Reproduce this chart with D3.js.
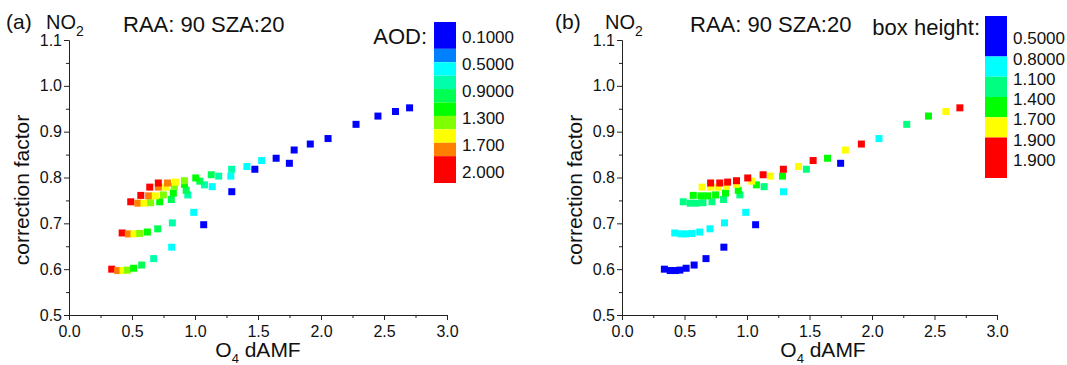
<!DOCTYPE html>
<html lang="en">

<head>
    <meta charset="utf-8" />
    <title>NO2 correction factor</title>
    <script src="https://d3js.org/d3.v7.min.js"></script>
</head>
<style>
    body {
        margin: 0;
        background: #fff;
    }

    text {
        font-family: "Liberation Sans", Arial, sans-serif;
        fill: #111;
    }

    .axis path,
    .axis line {
        stroke: #222;
        stroke-width: 1px;
    }
</style>

<body>
    <div id="chart"></div>
</body>

<script>
    // box heights (one curve each) and AOD values (one point per curve each)
    var boxHeights = [0.5, 0.8, 1.1, 1.4, 1.7, 1.9];
    var aodValues = [2.0, 1.8, 1.6, 1.4, 1.2, 1.0, 0.8, 0.6, 0.2, 0.1];

    // O4 dAMF (x) and correction factor (y) per box height, in aodValues order
    var o4_h05 = [0.339, 0.386, 0.429, 0.463, 0.513, 0.577, 0.672, 0.815, 1.069, 1.749];
    var cf_h05 = [0.600, 0.597, 0.597, 0.598, 0.602, 0.609, 0.623, 0.648, 0.697, 0.831];
    var o4_h08 = [0.422, 0.471, 0.516, 0.561, 0.622, 0.704, 0.820, 0.990, 1.292, 2.056];
    var cf_h08 = [0.679, 0.677, 0.677, 0.678, 0.681, 0.688, 0.701, 0.724, 0.769, 0.885];
    var o4_h11 = [0.490, 0.546, 0.595, 0.648, 0.720, 0.812, 0.943, 1.137, 1.475, 2.278];
    var cf_h11 = [0.747, 0.744, 0.744, 0.745, 0.747, 0.752, 0.762, 0.780, 0.818, 0.916];
    var o4_h14 = [0.570, 0.632, 0.685, 0.749, 0.828, 0.930, 1.075, 1.284, 1.644, 2.452];
    var cf_h14 = [0.761, 0.760, 0.760, 0.762, 0.766, 0.772, 0.784, 0.803, 0.842, 0.934];
    var o4_h17 = [0.641, 0.709, 0.768, 0.836, 0.917, 1.038, 1.188, 1.412, 1.787, 2.591];
    var cf_h17 = [0.779, 0.779, 0.779, 0.781, 0.785, 0.792, 0.803, 0.824, 0.860, 0.944];
    var o4_h19 = [0.709, 0.782, 0.845, 0.916, 1.006, 1.129, 1.291, 1.529, 1.915, 2.703];
    var cf_h19 = [0.788, 0.788, 0.790, 0.793, 0.799, 0.806, 0.818, 0.837, 0.873, 0.952];

    var o4Curves = [o4_h05, o4_h08, o4_h11, o4_h14, o4_h17, o4_h19];
    var cfCurves = [cf_h05, cf_h08, cf_h11, cf_h14, cf_h17, cf_h19];

    // axis ticks
    var xTicks = [0.0, 0.5, 1.0, 1.5, 2.0, 2.5, 3.0];
    var xMinor = [0.25, 0.75, 1.25, 1.75, 2.25, 2.75];
    var yTicks = [0.5, 0.6, 0.7, 0.8, 0.9, 1.0, 1.1];
    var yMinor = [0.55, 0.65, 0.75, 0.85, 0.95, 1.05];

    // legends
    var aodThresholds = [0.3, 0.5, 0.7, 0.9, 1.1, 1.3, 1.5, 1.7, 1.9];
    var aodLegendLabels = ["0.1000", "0.5000", "0.9000", "1.300", "1.700", "2.000"];
    var boxLegendLabels = ["0.5000", "0.8000", "1.100", "1.400", "1.700", "1.900", "1.900"];

    var aodColors = ["#0000ff", "#0080ff", "#00ffff", "#00ffaa", "#00ff55",
        "#00ff00", "#80ff00", "#ffff00", "#ff8000", "#ff0000"];
    var boxColors = ["#0000ff", "#00ffff", "#00ff80", "#00ff00", "#ffff00", "#ff0000"];

    var aodColor = d3.scaleThreshold().domain(aodThresholds).range(aodColors);
    var boxColor = d3.scaleOrdinal().domain(boxHeights).range(boxColors);

    // flat point list
    var points = [];
    boxHeights.forEach(function (h, i) {
        aodValues.forEach(function (a, j) {
            points.push({ box: h, aod: a, x: o4Curves[i][j], y: cfCurves[i][j] });
        });
    });

    var width = 1067, height = 365;
    var svg = d3.select("#chart").append("svg")
        .attr("width", width)
        .attr("height", height);

    var panels = [
        {
            left: 69, right: 447, tag: "(a)", tagX: 6, no2X: 46, raaX: 123,
            ylabX: 29, xlabX: 258, color: function (d) { return aodColor(d.aod); },
            legend: {
                x: 434, top: 22, bottom: 183, colors: aodColors, labels: aodLegendLabels,
                title: "AOD:", titleX: 427, titleY: 44, step: 2
            }
        },
        {
            left: 622, right: 997, tag: "(b)", tagX: 555, no2X: 605, raaX: 690,
            ylabX: 582, xlabX: 823, color: function (d) { return boxColor(d.box); },
            legend: {
                x: 985, top: 16, bottom: 178, colors: boxColors, labels: boxLegendLabels,
                title: "box height:", titleX: 980, titleY: 35, step: 1
            }
        }
    ];

    var plotTop = 40, plotBottom = 315;
    var y = d3.scaleLinear().domain([0.5, 1.1]).range([plotBottom, plotTop]);

    panels.forEach(function (p) {
        var x = d3.scaleLinear().domain([0, 3]).range([p.left, p.right]);
        var g = svg.append("g");

        // minor ticks
        g.append("g").attr("class", "axis")
            .attr("transform", "translate(0," + plotBottom + ")")
            .call(d3.axisBottom(x).tickValues(xMinor).tickSize(3).tickSizeOuter(0).tickFormat(""));
        g.append("g").attr("class", "axis")
            .attr("transform", "translate(" + p.left + ",0)")
            .call(d3.axisLeft(y).tickValues(yMinor).tickSize(3).tickSizeOuter(0).tickFormat(""));

        // major ticks
        var xa = g.append("g").attr("class", "axis")
            .attr("transform", "translate(0," + plotBottom + ")")
            .call(d3.axisBottom(x).tickValues(xTicks).tickSize(5).tickSizeOuter(0)
                .tickFormat(d3.format(".1f")));
        xa.selectAll("text").attr("dy", null).attr("y", 22)
            .style("font-size", "16px").style("font-family", "Liberation Sans, Arial, sans-serif");
        var ya = g.append("g").attr("class", "axis")
            .attr("transform", "translate(" + p.left + ",0)")
            .call(d3.axisLeft(y).tickValues(yTicks).tickSize(5).tickSizeOuter(0)
                .tickFormat(d3.format(".1f")));
        ya.selectAll("text").attr("x", -7)
            .style("font-size", "16px").style("font-family", "Liberation Sans, Arial, sans-serif");

        // points
        var s = 7;
        g.selectAll("rect.pt")
            .data(points)
            .enter().append("rect")
            .attr("class", "pt")
            .attr("x", function (d) { return x(d.x) - s / 2; })
            .attr("y", function (d) { return y(d.y) - s / 2; })
            .attr("width", s)
            .attr("height", s)
            .attr("fill", p.color);

        // axis titles
        g.append("text")
            .attr("transform", "translate(" + p.ylabX + "," + 190 + ") rotate(-90)")
            .attr("text-anchor", "middle")
            .style("font-size", "21px")
            .text("correction factor");
        var xt = g.append("text")
            .attr("x", p.xlabX)
            .attr("y", 357)
            .attr("text-anchor", "middle")
            .style("font-size", "21px");
        xt.append("tspan").text("O");
        xt.append("tspan").attr("dy", 6).style("font-size", "13px").text("4");
        xt.append("tspan").attr("dy", -6).text(" dAMF");

        // panel title
        g.append("text").attr("x", p.tagX).attr("y", 29)
            .style("font-size", "21px").text(p.tag);
        var no2 = g.append("text").attr("x", p.no2X).attr("y", 29)
            .style("font-size", "20px");
        no2.append("tspan").text("NO");
        no2.append("tspan").attr("dy", 7).style("font-size", "14px").text("2");
        g.append("text").attr("x", p.raaX).attr("y", 32)
            .style("font-size", "22px").text("RAA: 90 SZA:20");

        // legend bar: end blocks are double height
        var L = p.legend;
        var n = L.colors.length;
        var unit = (L.bottom - L.top) / (n + 2);
        var lg = g.append("g");
        lg.selectAll("rect")
            .data(L.colors)
            .enter().append("rect")
            .attr("x", L.x)
            .attr("y", function (d, i) { return L.top + (i === 0 ? 0 : (i + 1) * unit); })
            .attr("width", 22)
            .attr("height", function (d, i) { return (i === 0 || i === n - 1) ? 2 * unit : unit; })
            .attr("fill", function (d) { return d; });
        lg.selectAll("text.lab")
            .data(L.labels)
            .enter().append("text")
            .attr("class", "lab")
            .attr("x", L.x + 28)
            .attr("y", function (d, i) { return L.top + (1 + L.step * i) * unit + 8; })
            .style("font-size", "17px")
            .text(function (d) { return d; });
        lg.append("text")
            .attr("x", L.titleX)
            .attr("y", L.titleY)
            .attr("text-anchor", "end")
            .style("font-size", "22px")
            .text(L.title);
    });
</script>

</html>
